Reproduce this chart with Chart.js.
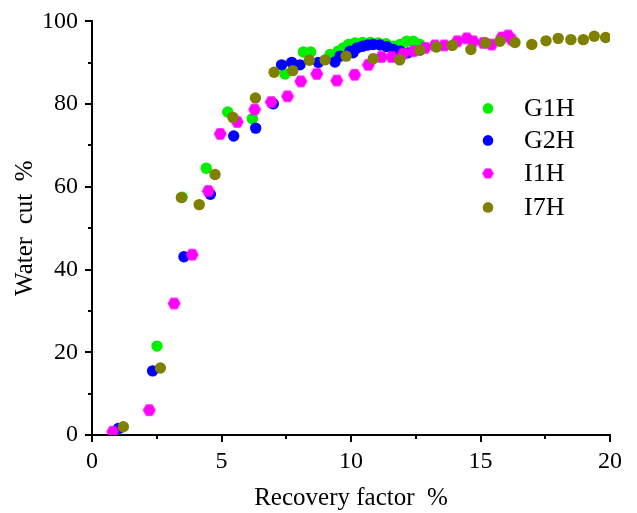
<!DOCTYPE html>
<html lang="en">
<head>
    <meta charset="UTF-8">
    <title>Water cut vs recovery factor</title>
    <script src="https://cdn.jsdelivr.net/npm/chart.js"></script>
    <style>
        body { margin: 0; background: #fff; }
        .master { width: 637px; height: 513px; }
    </style>
</head>
<body>
    <div class="master">
        <canvas id="myChart"></canvas>
    </div>

    <script>
        // Well names
        const wells = ['G1H', 'G2H', 'I1H', 'I7H'];

        // Recovery factor (%) and water cut (%) for each well
        const g1hX = [1.05, 2.51, 3.48, 4.41, 5.24, 6.19, 6.98, 7.45, 8.16, 8.44, 9.19, 9.50, 9.70, 9.90, 10.15, 10.45, 10.75, 11.05, 11.35, 11.63, 11.89, 12.15, 12.41, 12.66];
        const g1hY = [1.5, 21.5, 57.5, 64.5, 78.1, 76.5, 80.1, 87.3, 92.6, 92.6, 92.0, 92.8, 93.6, 94.4, 94.8, 94.9, 94.9, 94.8, 94.6, 94.0, 94.4, 95.2, 95.2, 94.4];

        const g2hX = [1.02, 2.34, 3.55, 4.57, 5.47, 6.32, 7.00, 7.32, 7.71, 8.03, 8.74, 9.38, 9.58, 9.96, 10.08, 10.24, 10.45, 10.65, 10.86, 11.12, 11.38, 11.63, 11.90, 12.20];
        const g2hY = [1.6, 15.5, 43.1, 58.2, 72.3, 74.2, 80.1, 89.5, 90.1, 89.5, 90.1, 90.2, 91.6, 92.8, 92.4, 93.6, 94.0, 94.3, 94.4, 94.3, 93.9, 93.2, 92.8, 92.4];

        const i1hX = [0.80, 2.21, 3.17, 3.87, 4.49, 4.95, 5.61, 6.28, 6.92, 7.55, 8.06, 8.68, 9.45, 10.14, 10.67, 11.18, 11.57, 12.02, 12.41, 12.86, 13.24, 13.60, 14.10, 14.47, 14.72, 15.11, 15.43, 15.82, 16.07, 16.20];
        const i1hY = [0.8, 6.0, 31.8, 43.6, 59.0, 72.8, 75.7, 78.7, 80.5, 81.9, 85.5, 87.3, 85.7, 87.1, 89.5, 91.4, 91.4, 92.2, 92.8, 93.6, 94.2, 94.2, 95.2, 95.9, 95.2, 94.8, 94.4, 96.1, 96.6, 95.6];

        const i7hX = [1.21, 2.64, 3.45, 4.14, 4.75, 5.44, 6.31, 7.03, 7.75, 8.39, 9.00, 9.81, 10.86, 11.88, 12.66, 13.30, 13.91, 14.63, 15.20, 15.75, 16.33, 16.98, 17.53, 18.00, 18.49, 18.97, 19.39, 19.83];
        const i7hY = [2.0, 16.2, 57.4, 55.7, 63.0, 76.8, 81.5, 87.7, 88.1, 90.6, 90.7, 91.6, 91.0, 90.7, 93.0, 93.8, 94.2, 93.2, 94.8, 95.2, 94.9, 94.4, 95.3, 95.9, 95.6, 95.6, 96.4, 96.1];

        const colors = ['#00f000', '#0000ff', '#ff00ff', '#808000'];
        const serif = 'Liberation Serif, Times New Roman, serif';

        function toPoints(xs, ys) {
            return xs.map((x, i) => ({ x: x, y: ys[i] }));
        }

        // hexagon marker for I1H
        function hexagon(r, color) {
            const c = document.createElement('canvas');
            c.width = c.height = Math.ceil(r * 2) + 1;
            const g = c.getContext('2d');
            const cx = c.width / 2, cy = c.height / 2;
            g.beginPath();
            for (let k = 0; k < 6; k++) {
                const a = Math.PI / 3 * k;
                const px = cx + r * Math.cos(a), py = cy + r * Math.sin(a);
                if (k === 0) g.moveTo(px, py); else g.lineTo(px, py);
            }
            g.closePath();
            g.fillStyle = color;
            g.fill();
            return c;
        }
        const hexMarker = hexagon(6.5, colors[2]);
        const hexLegend = hexagon(5.8, colors[2]);

        // short/long tick marks outside the axes
        const tickMarks = {
            id: 'tickMarks',
            afterDraw(chart) {
                const { ctx, scales: { x, y } } = chart;
                ctx.save();
                ctx.strokeStyle = '#000';
                ctx.lineWidth = 2;
                for (let v = 0; v <= 20; v += 2.5) {
                    const px = Math.round(x.getPixelForValue(v));
                    const len = v % 5 === 0 ? 7 : 4;
                    ctx.beginPath();
                    ctx.moveTo(px, y.bottom);
                    ctx.lineTo(px, y.bottom + len);
                    ctx.stroke();
                }
                for (let v = 0; v <= 100; v += 10) {
                    const py = Math.round(y.getPixelForValue(v));
                    const len = v % 20 === 0 ? 7 : 4;
                    ctx.beginPath();
                    ctx.moveTo(x.left, py);
                    ctx.lineTo(x.left - len, py);
                    ctx.stroke();
                }
                ctx.restore();
            }
        };

        // legend inside the plot, right side
        const innerLegend = {
            id: 'innerLegend',
            afterDraw(chart) {
                const { ctx, chartArea } = chart;
                const rows = [87, 119, 152, 186];
                ctx.save();
                ctx.font = '26px ' + serif;
                ctx.textBaseline = 'middle';
                wells.forEach((name, i) => {
                    const mx = chartArea.left + 396;
                    const my = chartArea.top + rows[i];
                    if (i === 2) {
                        ctx.drawImage(hexLegend, mx - hexLegend.width / 2, my - hexLegend.height / 2);
                    } else {
                        ctx.beginPath();
                        ctx.arc(mx, my, 5.3, 0, Math.PI * 2);
                        ctx.fillStyle = colors[i];
                        ctx.fill();
                    }
                    ctx.fillStyle = '#000';
                    ctx.fillText(name, chartArea.left + 432, my + 1);
                });
                ctx.restore();
            }
        };

        const series = [[g1hX, g1hY], [g2hX, g2hY], [i1hX, i1hY], [i7hX, i7hY]];

        const ctx = document.getElementById('myChart').getContext('2d');
        const myChart = new Chart(ctx, {
            type: 'scatter',
            data: {
                datasets: series.map((s, i) => ({
                    label: wells[i],
                    data: toPoints(s[0], s[1]),
                    backgroundColor: colors[i],
                    borderWidth: 0,
                    pointRadius: 5.7,
                    pointHoverRadius: 5.7,
                    pointStyle: i === 2 ? hexMarker : 'circle',
                    order: 4 - i
                }))
            },
            plugins: [tickMarks, innerLegend],
            options: {
                responsive: true,
                maintainAspectRatio: false,
                animation: false,
                layout: { padding: { left: 0, right: 27, top: 20, bottom: 0 } },
                plugins: {
                    legend: { display: false },
                    tooltip: { enabled: false }
                },
                scales: {
                    x: {
                        type: 'linear',
                        min: 0,
                        max: 20,
                        afterFit: s => { s.height = 78; },
                        border: { color: '#000', width: 2 },
                        grid: { drawOnChartArea: false, drawTicks: true, tickLength: 7, tickColor: 'rgba(0,0,0,0)' },
                        ticks: {
                            stepSize: 5,
                            padding: 5,
                            color: '#000',
                            maxRotation: 0,
                            font: { family: serif, size: 24 }
                        },
                        title: {
                            display: true,
                            text: 'Recovery factor  %',
                            color: '#000',
                            padding: { top: 0, bottom: 0 },
                            font: { family: serif, size: 25 }
                        }
                    },
                    y: {
                        type: 'linear',
                        min: 0,
                        max: 100,
                        afterFit: s => { s.width = 92; },
                        border: { color: '#000', width: 2 },
                        grid: { drawOnChartArea: false, drawTicks: true, tickLength: 7, tickColor: 'rgba(0,0,0,0)' },
                        ticks: {
                            stepSize: 10,
                            padding: 7,
                            color: '#000',
                            font: { family: serif, size: 24 },
                            callback: v => (v % 20 === 0 ? v : '')
                        },
                        title: {
                            display: true,
                            text: 'Water  cut  %',
                            color: '#000',
                            padding: { top: 10, bottom: 0 },
                            font: { family: serif, size: 25 }
                        }
                    }
                }
            }
        });
    </script>
</body>
</html>
